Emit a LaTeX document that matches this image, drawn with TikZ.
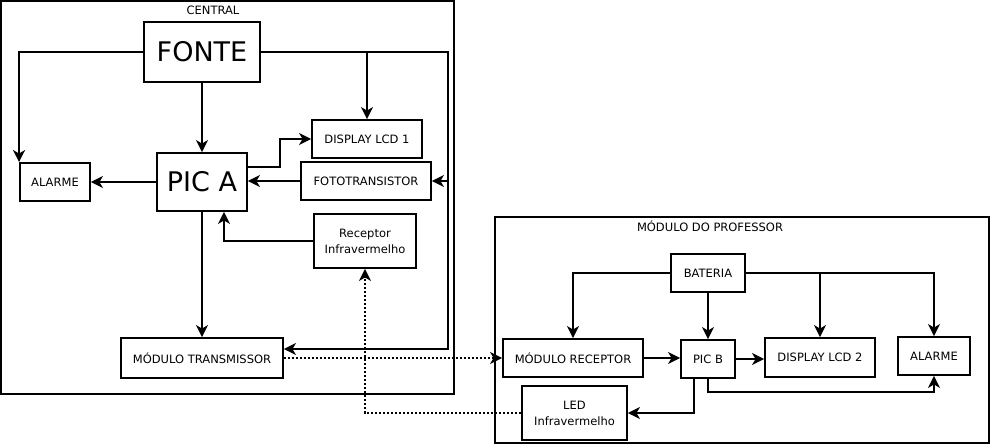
\documentclass[tikz,border=0pt]{standalone}
\usepackage{fontspec}
\setmainfont{DejaVu Sans}
\usetikzlibrary{arrows.meta}

\begin{document}
\begin{tikzpicture}[x=1pt, y=-1pt, line width=1.9pt,
    blk/.style={draw, fill=white, align=center, inner sep=0pt, font=\fontsize{11.5}{16}\selectfont},
    big/.style={blk, font=\fontsize{27}{30}\selectfont},
    arr/.style={-{Stealth[length=12pt, width=12pt, inset=3.5pt]}},
    ir/.style={arr, dash pattern=on 2pt off 2pt},
    lbl/.style={font=\fontsize{11.5}{14}\selectfont}]
  \useasboundingbox (0,0) rectangle (990,445);

  % central
  \draw (1,1) rectangle (454,394);
  \node[lbl] (central) at (213,10) {CENTRAL};

  \node[big, minimum width=116, minimum height=60] (fonte) at (202,52) {FONTE};
  \node[big, minimum width=90, minimum height=58] (picA) at (202,182) {PIC A};
  \node[blk, minimum width=110, minimum height=38] (lcdA) at (367,139) {DISPLAY LCD 1};
  \node[blk, minimum width=70, minimum height=38] (alarmeA) at (55,182) {ALARME};
  \node[blk, minimum width=130, minimum height=38] (foto) at (366,181) {FOTOTRANSISTOR};
  \node[blk, minimum width=102, minimum height=54] (receptor) at (365,241) {Receptor\\Infravermelho};
  \node[blk, minimum width=162, minimum height=40] (transm) at (202,358) {MÓDULO TRANSMISSOR};
  \coordinate (rail) at (448,52);

  \draw[arr] (fonte.west) -| (alarmeA.north west);
  \draw[arr] (fonte.south) -- (picA.north);
  \draw[arr] (fonte.east) -- (rail) |- ([yshift=9pt]transm.east);
  \draw[arr] (lcdA.north |- fonte.east) -- (lcdA.north);
  \draw[arr] (rail |- foto.east) -- (foto.east);
  \draw[arr] ([yshift=15pt]picA.east) -- ++(32,0) |- (lcdA.west);
  \draw[arr] (foto.west) -- (foto.west -| picA.east);
  \draw[arr] (picA.west) -- (alarmeA.east);
  \draw[arr] (receptor.west) -| ([xshift=22pt]picA.south);
  \draw[arr] (picA.south) -- (transm.north);

  % modulo do professor
  \draw (495,217) rectangle (989,443);
  \node[lbl] (prof) at (710,226) {MÓDULO DO PROFESSOR};

  \node[blk, minimum width=74, minimum height=38] (bateria) at (708,273) {BATERIA};
  \node[blk, minimum width=140, minimum height=38] (receptorB) at (573,358) {MÓDULO RECEPTOR};
  \node[blk, minimum width=54, minimum height=38] (picB) at (708,359) {PIC B};
  \node[blk, minimum width=110, minimum height=39] (lcdB) at (820,357.5) {DISPLAY LCD 2};
  \node[blk, minimum width=72, minimum height=38] (alarmeB) at (934,356) {ALARME};
  \node[blk, minimum width=105, minimum height=54] (led) at (574.5,413) {LED\\Infravermelho};

  \draw[arr] (bateria.west) -| (receptorB.north);
  \draw[arr] (bateria.south) -- (picB.north);
  \draw[arr] (bateria.east) -| (alarmeB.north);
  \draw[arr] (lcdB.north |- bateria.east) -- (lcdB.north);
  \draw[arr] (receptorB.east) -- (receptorB.east -| picB.west);
  \draw[arr] (picB.east) -- (picB.east -| lcdB.west);
  \draw[arr] (picB.south) -- ++(0,13) -| (alarmeB.south);
  \draw[arr] ([xshift=-14pt]picB.south) |- (led.east);

  % infravermelho
  \draw[ir] (transm.east) -- (transm.east -| receptorB.west);
  \draw[ir] (led.west) -| (receptor.south);
\end{tikzpicture}
\end{document}
